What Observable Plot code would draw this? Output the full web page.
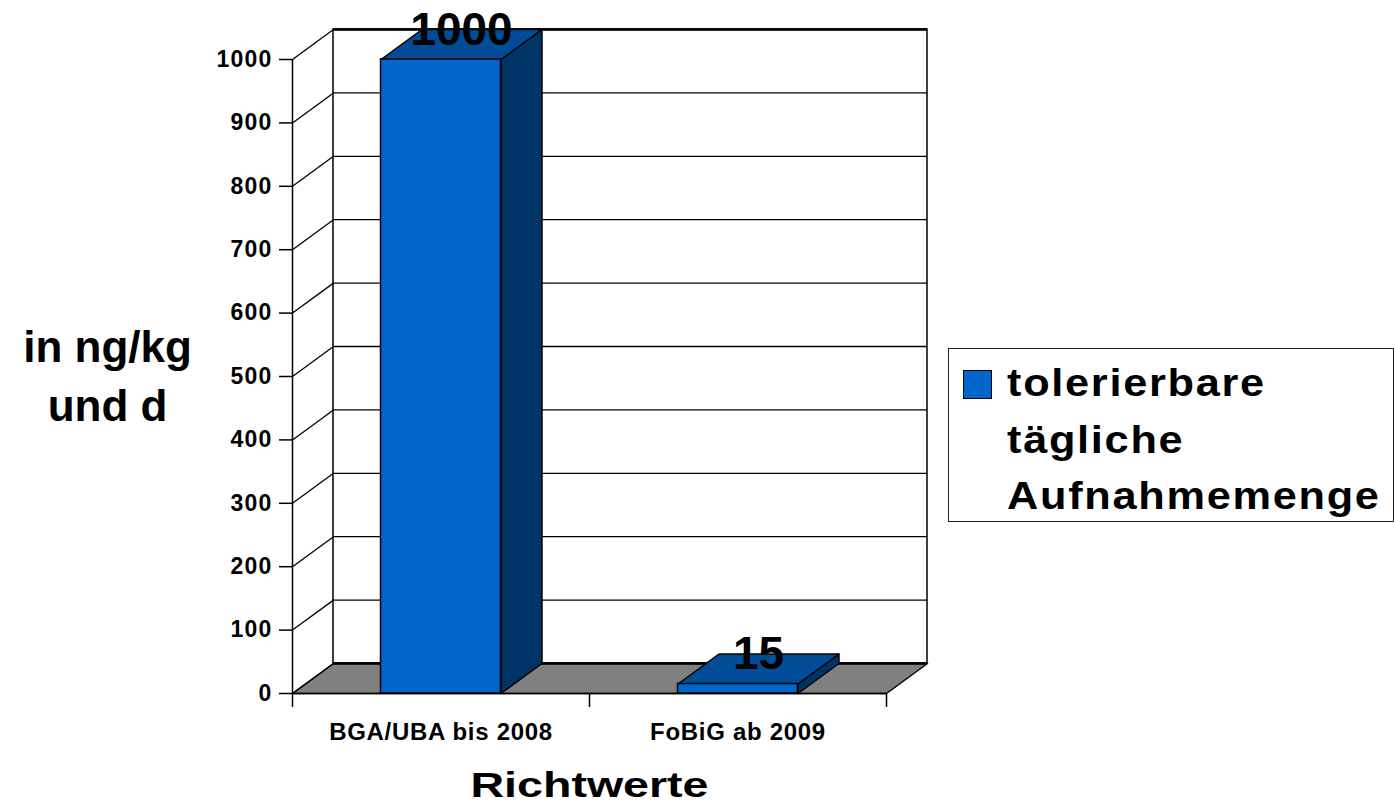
<!DOCTYPE html>
<html>
<head>
<meta charset="utf-8">
<script src="https://cdn.jsdelivr.net/npm/d3@7"></script>
<script src="https://cdn.jsdelivr.net/npm/@observablehq/plot@0.6"></script>
<style>
  html, body { margin: 0; padding: 0; background: #fff; }
  #wrap { position: relative; width: 1394px; height: 808px; overflow: hidden; font-family: "Liberation Sans", Arial, sans-serif; }
  #wrap svg { position: absolute; left: 0; top: 0; }
  g[aria-label="y-axis tick label"] text { letter-spacing: 1.2px; }
  g[aria-label="x-axis tick label"] text { letter-spacing: 0.7px; }
  #legend { position: absolute; left: 948px; top: 348px; width: 444px; height: 172px; border: 1.5px solid #222; background: #fff; }
  #legend .sw { position: absolute; left: 14px; top: 21px; width: 27px; height: 27px; background: #0066CC; border: 1px solid #000; }
  #legend .tx { position: absolute; left: 58px; top: 6px; font-size: 38px; font-weight: bold; line-height: 56.5px; letter-spacing: 1.5px; color: #000; white-space: nowrap; transform: scaleX(1.14); transform-origin: 0 0; }
</style>
</head>
<body>
<div id="wrap"></div>
<script>
// ---- data ----
const categories = ["BGA/UBA bis 2008", "FoBiG ab 2009"];
const values = [1000, 15];
const yTicks = [0, 100, 200, 300, 400, 500, 600, 700, 800, 900, 1000];
const seriesLabel = ["tolerierbare", "tägliche", "Aufnahmemenge"];
const yTitle = "in ng/kg\nund d";
const xTitle = "Richtwerte";

// ---- 3D projection helpers (depth in data units) ----
const DX = 0.138, DY = 47.3, HALF = 0.202;
const N = categories.length;
const bars = categories.map((c, i) => ({c, v: values[i], x0: i + 0.5 - HALF, x1: i + 0.5 + HALF, xc: i + 0.5}));
const poly = (c, pts) => pts.map(([x, y]) => ({c, x, y}));
const topPts = bars.flatMap(b => poly(b.c, [[b.x0, b.v], [b.x1, b.v], [b.x1 + DX, b.v + DY], [b.x0 + DX, b.v + DY], [b.x0, b.v]]));
const sidePts = bars.flatMap(b => poly(b.c, [[b.x1, 0], [b.x1 + DX, DY], [b.x1 + DX, b.v + DY], [b.x1, b.v], [b.x1, 0]]));
const floorPts = poly("floor", [[0, 0], [N, 0], [N + DX, DY], [DX, DY], [0, 0]]);

const chart = Plot.plot({
  width: 1394,
  height: 808,
  marginLeft: 292,
  marginRight: 508,
  marginTop: 59,
  marginBottom: 115,
  style: {fontFamily: "'Liberation Sans', Arial, sans-serif", color: "#000", background: "transparent"},
  x: {domain: [0, N]},
  y: {domain: [0, 1000]},
  marks: [
    // back wall
    Plot.rect([0], {x1: DX, x2: N + DX, y1: DY, y2: 1000 + DY, fill: "white", stroke: "black", strokeWidth: 1.5}),
    Plot.ruleY(yTicks, {y: d => d + DY, x1: DX, x2: N + DX, stroke: "black", strokeWidth: 1.3}),
    Plot.ruleY([1000 + DY], {x1: DX, x2: N + DX, stroke: "black", strokeWidth: 2.5}),
    // floor
    Plot.line(floorPts, {x: "x", y: "y", z: "c", fill: "#808080", stroke: "black", strokeWidth: 1.5}),
    Plot.ruleY([DY], {x1: DX, x2: N + DX, stroke: "black", strokeWidth: 2.5}),
    // side wall diagonals
    Plot.link(yTicks, {x1: 0, x2: DX, y1: d => d, y2: d => d + DY, stroke: "black", strokeWidth: 1.3}),
    // front axis lines
    Plot.ruleX([0], {y1: 0, y2: 1000, stroke: "black", strokeWidth: 1.5}),
    Plot.ruleY([0], {x1: 0, x2: N, stroke: "black", strokeWidth: 1.5}),
    // bars
    Plot.line(sidePts, {x: "x", y: "y", z: "c", fill: "#003366", stroke: "black", strokeWidth: 1.5}),
    Plot.line(topPts, {x: "x", y: "y", z: "c", fill: "#004C99", stroke: "black", strokeWidth: 1.5}),
    Plot.rect(bars, {x1: "x0", x2: "x1", y1: 0, y2: "v", fill: "#0066CC", stroke: "black", strokeWidth: 1.5}),
    // value labels
    Plot.text(bars, {x: d => d.xc + DX / 2, y: d => d.v + DY / 2, text: d => String(d.v), lineAnchor: "bottom", fontSize: 46, fontWeight: "bold", fill: "black"}),
    // axes
    Plot.axisY(yTicks, {tickSize: 13, tickPadding: 7, tickFormat: "d", fontSize: 23, fontWeight: "bold", label: null, stroke: "black", strokeWidth: 1.5}),
    Plot.axisX(d3.range(N + 1), {tickSize: 14, tickFormat: () => "", label: null, stroke: "black", strokeWidth: 1.5}),
    Plot.axisX(bars.map(b => b.xc), {tickSize: 0, tickPadding: 29, tickFormat: d => categories[Math.floor(d)], fontSize: 24, fontWeight: "bold", label: null}),
    // titles
    Plot.text([xTitle], {text: d => d, frameAnchor: "bottom", dy: 103, lineAnchor: "bottom", fontSize: 35, fontWeight: "bold"}),
    Plot.text([yTitle], {text: d => d, frameAnchor: "left", dx: -185, dy: 44, lineAnchor: "bottom", lineHeight: 1.32, fontSize: 44, fontWeight: "bold", textAnchor: "middle"})
  ]
});

d3.select(chart).selectAll("text").filter(function() { return this.textContent === xTitle; })
  .attr("textLength", 238).attr("lengthAdjust", "spacingAndGlyphs");

const wrap = document.getElementById("wrap");
wrap.appendChild(chart);
const legend = document.createElement("div");
legend.id = "legend";
legend.innerHTML = `<div class="sw"></div><div class="tx">${seriesLabel.join("<br>")}</div>`;
wrap.appendChild(legend);
</script>
</body>
</html>
